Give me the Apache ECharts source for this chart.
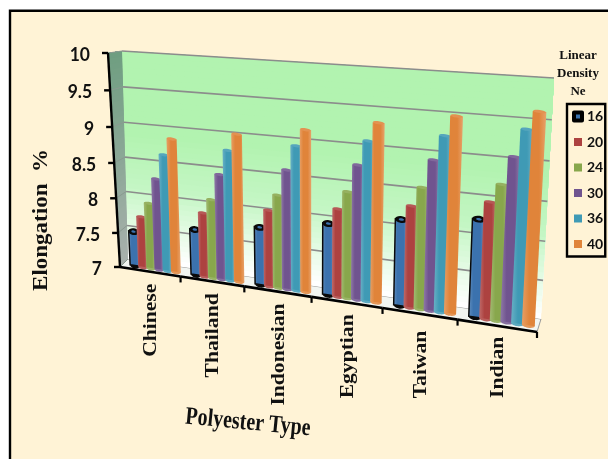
<!DOCTYPE html>
<html>
<head>
<meta charset="utf-8">
<style>html,body{margin:0;padding:0;background:#fff;overflow:hidden}#main{width:608px;height:459px}</style>
<script src="https://cdn.jsdelivr.net/npm/echarts@6/dist/echarts.min.js"></script>
</head>
<body>
<div id="main"></div>
<script>
var categories = ['Chinese', 'Thailand', 'Indonesian', 'Egyptian', 'Taiwan', 'Indian'];
var densityNames = ['16', '20', '24', '30', '36', '40'];
var yTicks = [7, 7.5, 8, 8.5, 9, 9.5, 10];
var ne16 = [7.5, 7.65, 7.8, 7.97, 8.14, 8.26];
var ne20 = [7.73, 7.9, 8.05, 8.18, 8.33, 8.49];
var ne24 = [7.94, 8.1, 8.27, 8.42, 8.58, 8.72];
var ne30 = [8.3, 8.46, 8.62, 8.78, 8.94, 9.07];
var ne36 = [8.65, 8.8, 8.95, 9.1, 9.25, 9.41];
var ne40 = [8.88, 9.03, 9.17, 9.34, 9.5, 9.63];
var colors = ['#3B72AE', '#AD4240', '#88A74C', '#70548F', '#3F9AB5', '#E0843A'];

// the chart box in the picture: front and back corners of the tilted plot
var front = [[120, 267], [537, 332], [551, 82], [108, 53]];
var back = [[128, 259], [541, 319], [554, 78], [122, 51]];
var barDepth = 0.4;
var labelNudge = [0, 0, 0, 0, 5, -1];

function warp(u, v, d) {
  var q = front.map(function(p, i) {
    return [p[0] + (back[i][0] - p[0]) * d, p[1] + (back[i][1] - p[1]) * d];
  });
  var sx = q[0][0] - q[1][0] + q[2][0] - q[3][0], sy = q[0][1] - q[1][1] + q[2][1] - q[3][1];
  var dx1 = q[1][0] - q[2][0], dx2 = q[3][0] - q[2][0], dy1 = q[1][1] - q[2][1], dy2 = q[3][1] - q[2][1];
  var den = dx1 * dy2 - dx2 * dy1;
  var g = (sx * dy2 - dx2 * sy) / den, h = (dx1 * sy - sx * dy1) / den;
  var w = g * u + h * v + 1;
  return [
    ((q[1][0] - q[0][0] + g * q[1][0]) * u + (q[3][0] - q[0][0] + h * q[3][0]) * v + q[0][0]) / w,
    ((q[1][1] - q[0][1] + g * q[1][1]) * u + (q[3][1] - q[0][1] + h * q[3][1]) * v + q[0][1]) / w
  ];
}
function unitX(cs, px) { return (px - cs.x) / cs.width; }
function unitY(cs, py) { return (cs.y + cs.height - py) / cs.height; }
function mix(a, b, t) {
  return 'rgb(' + [0, 1, 2].map(function(i) { return Math.round(a[i] + (b[i] - a[i]) * t); }).join(',') + ')';
}
// lift darkens for positive k
function shade(hex, k) {
  return echarts.color.lift(hex, k);
}

function renderWalls(params, api) {
  var cs = params.coordSys, kids = [], i, t;
  var n = 40;
  kids.push({ type: 'polygon', shape: { points: [warp(0, 0, 0), warp(1, 0, 0), warp(1, 0, 1), warp(0, 0, 1)] },
    style: { fill: '#F2F5F1', stroke: '#9a9a9a', lineWidth: 1 } });
  for (i = 0; i < n; i++) {
    t = i / n;
    var c = t < 0.35 ? mix([255, 255, 255], [196, 246, 196], t / 0.35) : mix([196, 246, 196], [178, 243, 176], Math.min(1, (t - 0.35) / 0.25));
    kids.push({ type: 'polygon', shape: { points: [warp(0, t, 1), warp(1, t, 1), warp(1, 1, 1), warp(0, 1, 1)] }, style: { fill: c } });
    kids.push({ type: 'polygon', shape: { points: [warp(0, t, 0), warp(0, t, 1), warp(0, 1, 1), warp(0, 1, 0)] },
      style: { fill: mix([168, 176, 172], [110, 158, 128], t) } });
  }
  yTicks.forEach(function(tick) {
    var v = unitY(cs, api.coord([0, tick])[1]);
    if (tick > 7) {
      kids.push({ type: 'polyline', shape: { points: [warp(0, v, 1), warp(1, v, 1)] },
        style: { stroke: '#8c8c8c', lineWidth: 1.6, fill: null } });
    }
    kids.push({ type: 'polyline', shape: { points: [warp(0, v, 0), warp(0, v, 1)] },
      style: { stroke: '#8a9a90', lineWidth: 1, fill: null } });
  });
  return { type: 'group', children: kids };
}

function renderBar(s) {
  return function(params, api) {
    var cs = params.coordSys;
    var base = api.coord([api.value(0), 7]);
    var top = api.coord([api.value(0), api.value(1)]);
    var band = api.size([1, 0])[0] / cs.width;
    var cu = unitX(cs, base[0]) + (s - 2.5) * band * 0.135 + band * 0.035;
    var hw = band * 0.08;
    var v = unitY(cs, top[1]);
    var bl = warp(cu - hw, 0, barDepth), br = warp(cu + hw, 0, barDepth);
    var tl = warp(cu - hw, v, barDepth), tr = warp(cu + hw, v, barDepth);
    var c = colors[s];
    var fill = new echarts.graphic.LinearGradient(0, 0, 1, 0, [
      { offset: 0, color: shade(c, 0.22) }, { offset: 0.3, color: c },
      { offset: 0.7, color: c }, { offset: 1, color: shade(c, 0.25) }
    ]);
    var isBlue = s === 0;
    var rx = (br[0] - bl[0]) / 2;
    var tilt = -Math.atan2(br[1] - bl[1], br[0] - bl[0]);
    function cap(p, r, ry, f) {
      return { type: 'ellipse', x: p[0], y: p[1], rotation: tilt, shape: { cx: 0, cy: 0, rx: r, ry: ry }, style: { fill: f } };
    }
    var bm = [(bl[0] + br[0]) / 2, (bl[1] + br[1]) / 2], tm = [(tl[0] + tr[0]) / 2, (tl[1] + tr[1]) / 2];
    var kids = [
      cap(bm, rx, isBlue ? 3 : 2.5, isBlue ? '#0a0a0a' : shade(c, 0.15)),
      { type: 'polygon', shape: { points: [bl, br, tr, tl] },
        style: { fill: fill, stroke: isBlue ? '#0a0a0a' : null, lineWidth: isBlue ? 1.5 : 0 } }
    ];
    if (isBlue) {
      kids.push(cap(tm, rx + 0.5, 3.4, '#0a0a0a'));
      kids.push(cap(tm, rx * 0.45, 1.2, c));
    } else {
      kids.push(cap(tm, rx, 1.5, shade(c, 0.12)));
    }
    return { type: 'group', children: kids };
  };
}

function renderYAxis(params, api) {
  var cs = params.coordSys;
  var tick = api.value(0);
  var v = unitY(cs, api.coord([0, tick])[1]);
  var p = warp(0, v, 0);
  return { type: 'group', children: [
    { type: 'polyline', shape: { points: [[p[0] - 6, p[1]], p] }, style: { stroke: '#000', lineWidth: 2.4, fill: null } },
    { type: 'text', x: p[0] - 18, y: p[1] + 2, scaleX: 0.92, style: { text: String(tick), font: 'bold 19px Lato', fill: '#111', align: 'right', verticalAlign: 'middle' } }
  ] };
}

function renderXAxis(params, api) {
  var cs = params.coordSys;
  var i = api.value(0);
  var band = api.size([1, 0])[0] / cs.width;
  var cu = unitX(cs, api.coord([i, 7])[0]);
  var a = warp(cu - band / 2, 0, 0), b = warp(cu + band / 2, 0, 0), m = warp(cu, 0, 0);
  var kids = [
    { type: 'polyline', shape: { points: [a, b] }, style: { stroke: '#000', lineWidth: 2.6, fill: null } },
    { type: 'polyline', shape: { points: [b, [b[0], b[1] + 6]] }, style: { stroke: '#000', lineWidth: 2.2, fill: null } },
    { type: 'text', x: m[0] + 1, y: m[1] + 12 + labelNudge[i], rotation: Math.PI / 2, scaleX: 1.2, scaleY: 1.08,
      style: { text: categories[i], font: 'bold 18px "Liberation Serif"', fill: '#111', align: 'right', verticalAlign: 'middle' } }
  ];
  return { type: 'group', children: kids };
}

function renderFrontY(params) {
  return { type: 'polyline', shape: { points: [warp(0, 0, 0), warp(0, 1, 0)] }, style: { stroke: '#000', lineWidth: 2.4, fill: null } };
}

var series = [
  { type: 'custom', name: 'walls', coordinateSystem: 'cartesian2d', z: 1, silent: true, data: [[0, 7]], renderItem: renderWalls, clip: false }
];
[ne16, ne20, ne24, ne30, ne36, ne40].forEach(function(vals, s) {
  series.push({
    type: 'custom', name: densityNames[s], coordinateSystem: 'cartesian2d', z: 2, clip: false,
    itemStyle: { color: colors[s] },
    encode: { x: 0, y: 1 },
    data: vals.map(function(v, i) { return [i, v]; }),
    renderItem: renderBar(s)
  });
});
series.push({ type: 'custom', name: 'yaxisline', coordinateSystem: 'cartesian2d', z: 3, silent: true, clip: false, data: [[0, 7]], renderItem: renderFrontY });
series.push({ type: 'custom', name: 'yticks', coordinateSystem: 'cartesian2d', z: 3, silent: true, clip: false,
  data: yTicks.map(function(t) { return [t]; }), encode: { y: 0 }, renderItem: renderYAxis });
series.push({ type: 'custom', name: 'xticks', coordinateSystem: 'cartesian2d', z: 3, silent: true, clip: false,
  data: categories.map(function(c, i) { return [i, 7]; }), encode: { x: 0, y: 1 }, renderItem: renderXAxis });

var chart = echarts.init(document.getElementById('main'), null, { renderer: 'canvas' });
chart.setOption({
  animation: false,
  backgroundColor: '#fff',
  grid: { left: 0, top: 0, width: 600, height: 300, show: false },
  xAxis: { type: 'category', data: categories, show: false },
  yAxis: { type: 'value', min: 7, max: 10, interval: 0.5, show: false },
  legend: {
    orient: 'vertical', left: 567, top: 104, padding: [4, 2, 4, 5],
    borderColor: '#000', borderWidth: 2.4, backgroundColor: '#FFF3D6',
    itemWidth: 8, itemHeight: 8, itemGap: 8.5, icon: 'rect', selectedMode: false,
    textStyle: { fontFamily: 'Lato', fontSize: 14, fontWeight: 'bold', color: '#111', lineHeight: 17 },
    data: densityNames.map(function(n, i) {
      return i === 0 ? { name: n, itemStyle: { color: colors[0], borderColor: '#000', borderWidth: 4, borderJoin: 'round' } } : { name: n };
    })
  },
  graphic: [
    { type: 'rect', z: -1, shape: { x: 10, y: 10.7, width: 620, height: 470 }, style: { fill: '#FFF3D6', stroke: '#000', lineWidth: 2.4 } },
    { type: 'text', z: 5, x: 578, y: 74, style: { text: 'Linear\nDensity\nNe', font: 'bold 13px "Liberation Serif"', lineHeight: 18, fill: '#111', align: 'center', verticalAlign: 'middle' } },
    { type: 'text', z: 5, x: 42, y: 220, rotation: Math.PI / 2, scaleX: 1.15, style: { text: 'Elongation  %', font: 'bold 20px "Liberation Serif"', fill: '#111', align: 'center', verticalAlign: 'middle' } },
    { type: 'text', z: 5, x: 248, y: 423, rotation: -0.096, scaleY: 1.25, style: { text: 'Polyester Type', font: 'bold 20px "Liberation Serif"', fill: '#111', align: 'center', verticalAlign: 'middle' } }
  ],
  series: series
});
</script>
</body>
</html>
